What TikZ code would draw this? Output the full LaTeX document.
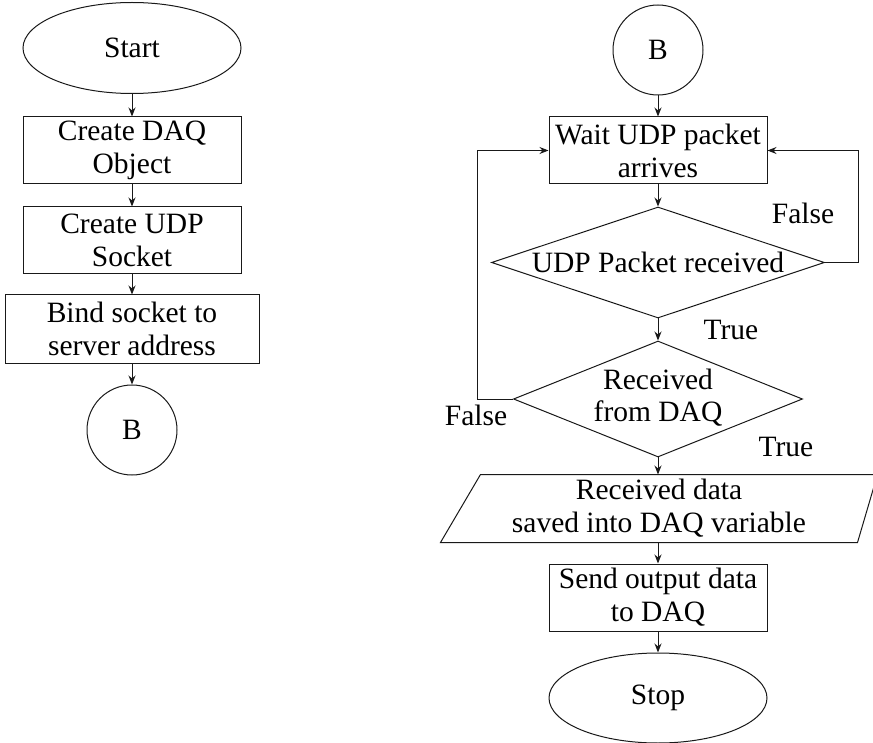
\documentclass[tikz,border=0pt]{standalone}
\usepackage{fontspec}
\setmainfont{Liberation Serif}
\usetikzlibrary{shapes.geometric,arrows.meta}
\tikzset{
  base/.style={draw=black!90, line width=1pt, font=\fontsize{29.5}{33}\selectfont, align=center, inner sep=0pt},
  procbox/.style={base, rectangle, minimum width=218pt, minimum height=67pt},
  term/.style={base, ellipse, minimum width=218pt, minimum height=91pt},
  conn/.style={base, circle, minimum size=90pt},
  decide/.style={base, diamond, aspect=3},
  lbl/.style={font=\fontsize{29.5}{33}\selectfont, inner sep=0pt},
  flow/.style={draw=black!90, line width=1pt, -{Stealth[length=9pt,width=7pt]}}
}
\begin{document}
\begin{tikzpicture}[x=1pt,y=-1pt]
\useasboundingbox (0,0) rectangle (873,743);
% left column
\node[term] (start) at (132,48) {Start};
\node[procbox] (daq) at (132,150.5) {Create DAQ\\Object};
\node[procbox] (udp) at (132,240.5) {Create UDP\\Socket};
\node[procbox, minimum width=254pt, minimum height=68pt] (bind) at (132,329) {Bind socket to\\server address};
\node[conn] (b1) at (132,430) {B};
\draw[flow] (start) -- (daq);
\draw[flow] (daq) -- (udp);
\draw[flow] (udp) -- (bind);
\draw[flow] (bind) -- (b1);
% right column
\node[conn] (b2) at (658,50) {B};
\node[procbox] (wait) at (658,150.5) {Wait UDP packet\\arrives};
\node[decide, minimum width=333pt, minimum height=111pt] (d1) at (658,262.5) {\makebox[0pt]{UDP Packet received}};
\node[decide, minimum width=289pt, minimum height=116pt] (d2) at (658,399) {\makebox[0pt]{\begin{tabular}{@{}c@{}}Received\\[-1pt]from DAQ\end{tabular}}};
\node[base, draw=none, rectangle, minimum width=396pt, minimum height=67pt] (io) at (659,508.5) {Received data\\saved into DAQ variable};
\draw[black!90, line width=1pt] ([xshift=-20pt]io.south west) -- ([xshift=20pt]io.north west) -- ([xshift=20pt]io.north east) -- (io.south east) -- cycle;
\node[procbox] (send) at (658,597.5) {Send output data\\to DAQ};
\node[term, minimum height=90pt] (stop) at (658,698) {Stop};
\coordinate (rloop) at (858,262.5);
\coordinate (lloop) at (477,399);
\draw[flow] (b2) -- (wait);
\draw[flow] (wait) -- (d1);
\draw[flow] (d1) -- (d2);
\draw[flow] (d2) -- (io.north -| d2.south);
\draw[flow] (io.south -| send.north) -- (send);
\draw[flow] (send) -- (stop);
\draw[flow] (d1.east) -- (rloop) |- (wait.east);
\draw[flow] (d2.west) -- (lloop) |- (wait.west);
\node[lbl] (f1) at (803,213) {False};
\node[lbl] (t1) at (731,330) {True};
\node[lbl] (f2) at (476,415) {False};
\node[lbl] (t2) at (786,447) {True};
\end{tikzpicture}
\end{document}
